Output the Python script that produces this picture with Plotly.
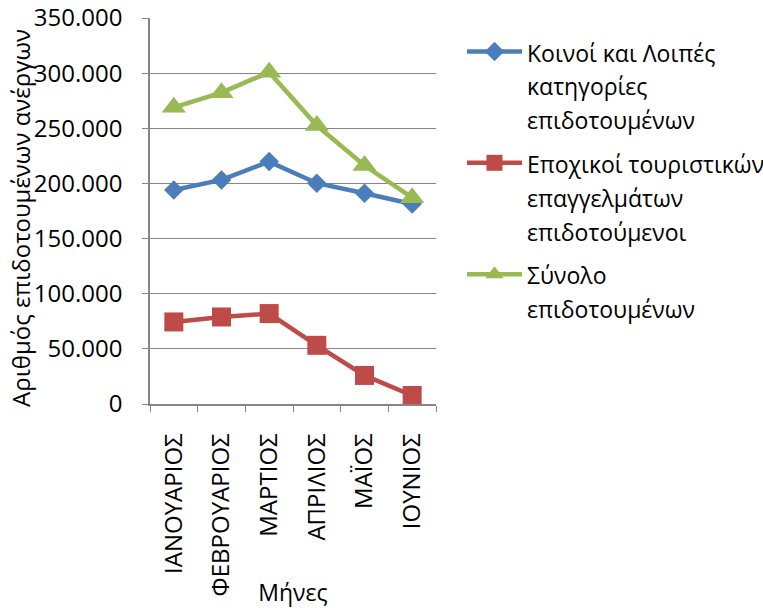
import plotly.graph_objects as go

months = ["ΙΑΝΟΥΑΡΙΟΣ", "ΦΕΒΡΟΥΑΡΙΟΣ", "ΜΑΡΤΙΟΣ", "ΑΠΡΙΛΙΟΣ", "ΜΑΪΟΣ", "ΙΟΥΝΙΟΣ"]
koinoi = [194100, 203200, 219800, 200200, 191100, 181400]
epoxikoi = [74400, 78900, 82000, 53200, 25900, 7700]
synolo = [269000, 282300, 300900, 252500, 216200, 187100]

names = [
    "Κοινοί και Λοιπές<br>κατηγορίες<br>επιδοτουμένων",
    "Εποχικοί τουριστικών<br>επαγγελμάτων<br>επιδοτούμενοι",
    "Σύνολο<br>επιδοτουμένων",
]
y_title = "Αριθμός επιδοτουμένων ανέργων"
x_title = "Μήνες"
colors = ["#4A7EBB", "#BE4B48", "#98B954"]
symbols = ["diamond", "square", "triangle-up"]
sizes = [15, 19, 21]
FONT = "Open Sans"
SPAN = '<span style="font-size:23px">'

fig = go.Figure()
for i, (vals, nm, c, s, sz) in enumerate(zip([koinoi, epoxikoi, synolo], names, colors, symbols, sizes)):
    fig.add_trace(go.Scatter(
        x=months, y=vals, mode="lines+markers",
        name=SPAN + nm.replace("<br>", "</span><br>" + SPAN) + "</span>",
        legendgroup=f"g{i}",
        line=dict(color=c, width=4.5),
        marker=dict(symbol=s, size=sz, color=c, line=dict(width=0)),
    ))

L, R, T, B, W, H = 150, 327, 18, 204, 763, 608
fig.update_layout(
    width=W, height=H,
    margin=dict(l=L, r=R, t=T, b=B),
    paper_bgcolor="white", plot_bgcolor="white",
    font=dict(family=FONT, size=22, color="black"),
    separators=",.",
    showlegend=True,
    legend=dict(
        xref="container", yref="container",
        x=462 / W, y=1 - 28 / H, xanchor="left", yanchor="top",
        font=dict(family=FONT, size=26, color="black"),
        valign="top", itemwidth=55, tracegroupgap=7,
        bgcolor="rgba(0,0,0,0)",
    ),
    xaxis=dict(
        type="category", range=[-0.5, 5.5], tickson="boundaries",
        ticks="outside", ticklen=6, tickcolor="#868686",
        showline=True, linecolor="#868686", linewidth=1.5,
        showgrid=False, tickangle=-90, automargin=False,
        tickfont=dict(family=FONT, size=24),
        ticklabelstandoff=18,
        title=dict(text=x_title, font=dict(family=FONT, size=23), standoff=0),
    ),
    yaxis=dict(
        range=[0, 350000], dtick=50000, tickformat=",d",
        ticks="outside", ticklen=6, tickcolor="#868686",
        showline=True, linecolor="#868686", linewidth=1.5,
        showgrid=True, gridcolor="#868686", gridwidth=1,
        zeroline=False, automargin=False,
        tickfont=dict(family=FONT, size=24),
        ticklabelstandoff=15,
    ),
    annotations=[dict(
        text=y_title, textangle=-90, showarrow=False,
        xref="paper", yref="paper",
        x=(21 - L) / (W - L - R), y=0.482, xanchor="center", yanchor="middle",
        font=dict(family=FONT, size=24, color="black"),
    )],
)

fig.write_html("out.html", config={"displayModeBar": False},
               post_script="document.body.style.margin='0';")
